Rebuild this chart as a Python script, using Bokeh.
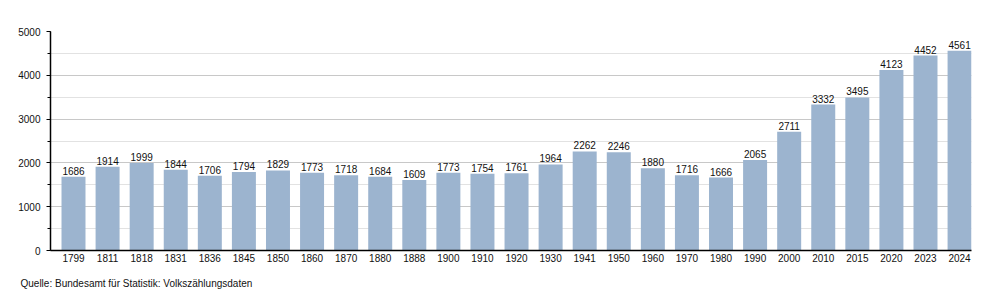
from bokeh.plotting import figure
from bokeh.models import Range1d, FixedTicker, SingleIntervalTicker, Title, ColumnDataSource
from bokeh.core.properties import value
from bokeh.embed import file_html
from bokeh.resources import INLINE

years = ["1799", "1811", "1818", "1831", "1836", "1845", "1850", "1860", "1870", "1880",
         "1888", "1900", "1910", "1920", "1930", "1941", "1950", "1960", "1970", "1980",
         "1990", "2000", "2010", "2015", "2020", "2023", "2024"]
population = [1686, 1914, 1999, 1844, 1706, 1794, 1829, 1773, 1718, 1684,
              1609, 1773, 1754, 1761, 1964, 2262, 2246, 1880, 1716, 1666,
              2065, 2711, 3332, 3495, 4123, 4452, 4561]
source_text = "Quelle: Bundesamt für Statistik: Volkszählungsdaten"

FONT = "Liberation Sans"
FS = "10px"
idx = list(range(len(years)))
src = ColumnDataSource(dict(x=idx, y=population, lbl=[str(v) for v in population]))

p = figure(width=1000, height=300, output_backend="svg", toolbar_location=None,
           x_range=Range1d(-0.675, 26.35), y_range=Range1d(0, 5000),
           min_border_left=50, min_border_right=29, min_border_top=31, min_border_bottom=50)
p.outline_line_color = None
p.background_fill_color = "white"
p.border_fill_color = "white"

p.vbar(x="x", top="y", width=0.704, source=src, fill_color="#9cb4cf", line_color=None)
p.text(x="x", y="y", text="lbl", source=src, text_align="center", text_baseline="bottom",
       y_offset=-2, text_font=value(FONT), text_font_size=FS, text_color="#111111")

# x axis
p.xaxis.ticker = FixedTicker(ticks=idx)
p.xaxis.major_label_overrides = {i: y for i, y in zip(idx, years)}
p.xaxis.major_tick_line_color = None
p.xaxis.minor_tick_line_color = None
p.xaxis.major_tick_out = 0
p.xaxis.minor_tick_out = 0
p.xaxis.axis_line_color = "black"
p.xaxis.axis_line_width = 1.5
p.xaxis.major_label_text_font = FONT
p.xaxis.major_label_text_font_size = FS
p.xaxis.major_label_text_color = "#111111"
p.xaxis.major_label_standoff = 3
p.xgrid.grid_line_color = None

# y axis
p.yaxis.ticker = SingleIntervalTicker(interval=1000, num_minor_ticks=2)
p.yaxis.axis_line_color = "black"
p.yaxis.axis_line_width = 1.5
p.yaxis.major_tick_out = 4
p.yaxis.major_tick_in = 0
p.yaxis.minor_tick_out = 3
p.yaxis.minor_tick_in = 0
p.yaxis.major_tick_line_color = "black"
p.yaxis.minor_tick_line_color = "black"
p.yaxis.major_label_text_font = FONT
p.yaxis.major_label_text_font_size = FS
p.yaxis.major_label_text_color = "#111111"
p.yaxis.major_label_standoff = 6
p.ygrid.grid_line_color = "#c8c8c8"
p.ygrid.minor_grid_line_color = "#e2e2e2"

p.add_layout(Title(text=source_text, align="left", offset=-30, standoff=22,
                   text_font=FONT, text_font_size=FS, text_font_style="normal",
                   text_color="#111111"), "below")

open("out.html", "w").write(file_html(p, INLINE))
